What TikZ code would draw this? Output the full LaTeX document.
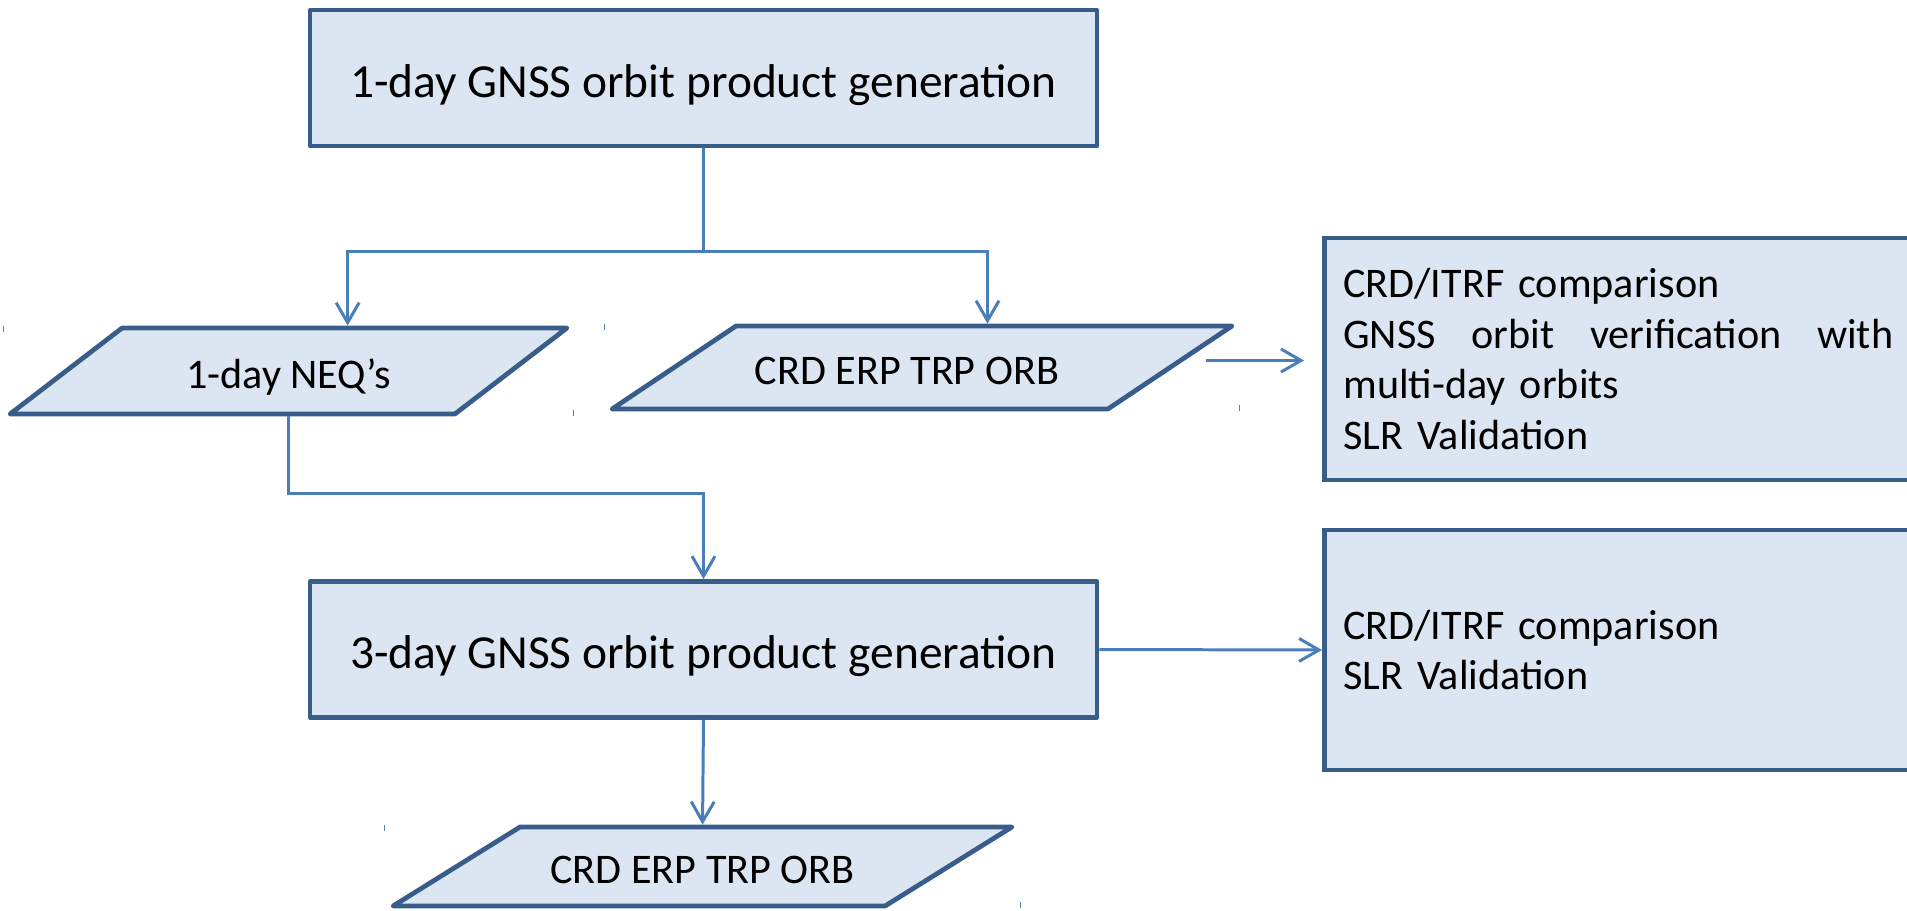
\documentclass[tikz,border=0pt]{standalone}
\usepackage{fontspec}
\setmainfont{Carlito}
\usetikzlibrary{arrows.meta,shapes.geometric}
\definecolor{boxfill}{RGB}{220,230,242}
\definecolor{boxline}{RGB}{56,93,138}
\definecolor{flowline}{RGB}{74,126,187}

\tikzset{
  procbox/.style={draw=boxline, line width=2.7pt, fill=boxfill, line join=round,
    minimum width=15.74cm, minimum height=2.72cm, text height=0.86cm, text depth=0.1cm,
    font=\fontsize{27}{32}\selectfont},
  databox/.style={trapezium, trapezium stretches body, draw=boxline, line width=2.7pt,
    fill=boxfill, line join=round, text height=0.74cm, text depth=0.06cm,
    font=\fontsize{24}{28.5}\selectfont},
  checkbox/.style={draw=boxline, line width=2.7pt, fill=boxfill, anchor=west,
    text width=11cm, align=left, inner xsep=0.38cm, font=\fontsize{24}{28.8}\selectfont},
  flow/.style={draw=flowline, line width=1.7pt,
    -{Straight Barb[length=0.4cm,width=0.46cm]}},
  tickmark/.style={draw=boxline!80, line width=0.6pt}
}

\begin{document}
\begin{tikzpicture}[x=0.02cm, y=-0.02cm]
    \clip (0,0) rectangle (1907,910);

    % processing steps
    \node[procbox] (gen1) at (703.5,78) {1-day GNSS orbit product generation};
    \node[procbox] (gen3) at (703.5,649.5) {3-day GNSS orbit product generation};

    % data products (height = text height + depth + 2 inner ysep)
    \node[databox, minimum width=11.14cm, inner ysep=0.46cm,
      trapezium left angle=37.5, trapezium right angle=142.5] (neq) at (288.5,371) {1-day NEQ's};
    \node[databox, minimum width=12.4cm, inner ysep=0.43cm,
      trapezium left angle=33.8, trapezium right angle=146.2] (prod1) at (922,367.5) {CRD ERP TRP ORB\rule{0.6cm}{0pt}};
    \node[databox, minimum width=12.38cm, inner ysep=0.39cm,
      trapezium left angle=31.9, trapezium right angle=148.1] (prod3) at (702.5,866.5) {CRD ERP TRP ORB};

    % checks on the products
    \node[checkbox, minimum height=4.84cm] (check1) at (1322,359) {CRD/ITRF comparison\\
      GNSS\hfill orbit\hfill verification\hfill with\\
      multi-day orbits\\
      SLR Validation};
    \node[checkbox, minimum height=4.8cm] (check2) at (1322,650) {CRD/ITRF comparison\\
      SLR Validation};

    % corner marks
    \foreach \n in {neq,prod1,prod3} {
      \draw[tickmark] (\n.bottom left corner |- \n.top side) -- ++(0,6);
      \draw[tickmark] (\n.top right corner |- \n.bottom side) -- ++(0,-6);
    }

    % connectors
    \draw[flow, -] (gen1.south) -- ++(0,103) coordinate (split);
    \draw[flow] (split) -| (neq.top side);
    \draw[flow] (split) -| (prod1.top side);
    \draw[flow] (neq.south) -- ++(0,77) -| (gen3.north);
    \draw[flow, shorten <=0.64cm, shorten >=0.36cm] ([yshift=0.14cm]prod1.east) -- ([yshift=0.14cm]prod1.east -| check1.west);
    \draw[flow] (gen3.east) -- (check2.west);
    \draw[flow] (gen3.south) -- (prod3.north);
\end{tikzpicture}
\end{document}
